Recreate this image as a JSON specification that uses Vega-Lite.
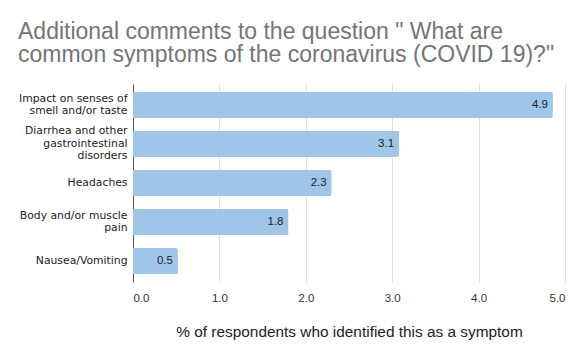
{
  "$schema": "https://vega.github.io/schema/vega-lite/v6.json",
  "width": 432,
  "height": 198,
  "autosize": {"type": "none"},
  "padding": {"left": 133, "top": 84, "right": 18, "bottom": 78},
  "background": "white",
  "title": {
    "text": ["Additional comments to the question \" What are", "common symptoms of the coronavirus (COVID 19)?\""],
    "anchor": "start",
    "frame": "group",
    "dx": -115,
    "offset": 17,
    "fontSize": 23,
    "fontWeight": "normal",
    "font": "Liberation Sans",
    "color": "#757575",
    "lineHeight": 23.5
  },
  "data": {
    "values": [
      {"symptom": "Impact on senses of|smell and/or taste", "pct": 4.86, "order": 1},
      {"symptom": "Diarrhea and other|gastrointestinal|disorders", "pct": 3.08, "order": 2},
      {"symptom": "Headaches", "pct": 2.3, "order": 3},
      {"symptom": "Body and/or muscle|pain", "pct": 1.8, "order": 4},
      {"symptom": "Nausea/Vomiting", "pct": 0.52, "order": 5}
    ]
  },
  "encoding": {
    "y": {
      "field": "symptom",
      "type": "nominal",
      "sort": {"field": "order"},
      "scale": {"paddingInner": 0.33, "paddingOuter": 0.2},
      "axis": {
        "title": null,
        "labelExpr": "split(datum.label, '|')",
        "labelFont": "DejaVu Sans",
        "labelFontSize": 10.8,
        "labelColor": "#222222",
        "labelLineHeight": 12.5,
        "labelBaseline": "middle",
        "labelOffset": {
          "condition": [
            {"test": "length(split(datum.value, '|')) == 3", "value": -12.5},
            {"test": "length(split(datum.value, '|')) == 2", "value": -6.25}
          ],
          "value": 0
        },
        "ticks": false,
        "labelPadding": 6,
        "domainColor": "#555555",
        "labelLimit": 200
      }
    },
    "x": {
      "field": "pct",
      "type": "quantitative",
      "scale": {"domain": [0, 5], "nice": false},
      "axis": {
        "title": "% of respondents who identified this as a symptom",
        "titleFont": "Liberation Sans",
        "titleFontSize": 15.4,
        "titleFontWeight": "normal",
        "titleColor": "#222222",
        "titlePadding": 21,
        "values": [0, 1, 2, 3, 4, 5],
        "format": ".1f",
        "labelFont": "Liberation Sans",
        "labelFontSize": 11.5,
        "labelColor": "#333333",
        "labelPadding": 10,
        "ticks": false,
        "domain": false,
        "gridColor": "#e0e0e0"
      }
    }
  },
  "layer": [
    {"mark": {"type": "bar", "color": "#9fc5e8", "cornerRadiusEnd": 2}},
    {
      "mark": {"type": "text", "align": "right", "dx": -5, "font": "Liberation Sans", "fontSize": 11.5, "color": "#222222"},
      "encoding": {"text": {"field": "pct", "type": "quantitative", "format": ".1f"}}
    }
  ],
  "config": {"view": {"stroke": null}}
}
